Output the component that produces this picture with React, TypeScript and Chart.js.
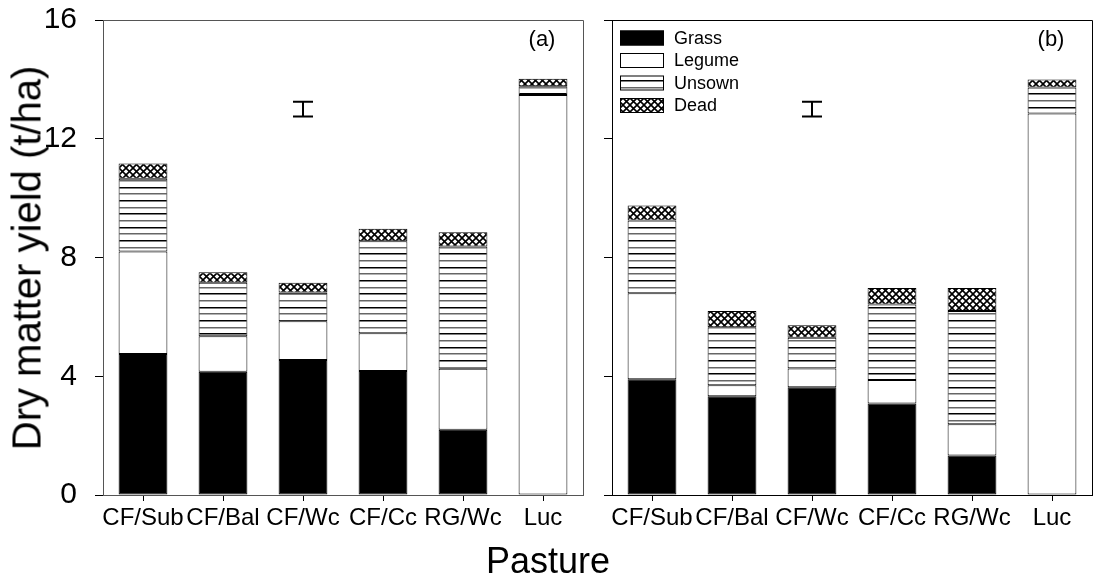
import React, { useEffect, useRef } from "react";
import { Chart, registerables } from "chart.js";
Chart.register(...registerables);

const categories = ["CF/Sub", "CF/Bal", "CF/Wc", "CF/Cc", "RG/Wc", "Luc"];
const grassA = [4.75, 4.15, 4.55, 4.18, 2.2, 0];
const legumeA = [3.45, 1.2, 1.3, 1.27, 2.05, 13.47];
const unsownA = [2.45, 1.8, 0.97, 3.1, 4.12, 0.3];
const deadA = [0.52, 0.35, 0.33, 0.42, 0.48, 0.25];
const grassB = [3.9, 3.33, 3.63, 3.08, 1.33, 0];
const legumeB = [2.9, 0.37, 0.63, 0.79, 1.05, 12.85];
const unsownB = [2.45, 1.95, 1.04, 2.55, 3.82, 0.88];
const deadB = [0.5, 0.55, 0.42, 0.55, 0.77, 0.27];
const yTicks = [0, 4, 8, 12, 16];
const seriesNames = ["Grass", "Legume", "Unsown", "Dead"];
const panelLabels = ["(a)", "(b)"];
const errCategory = "CF/Wc";
const errValue = 13.0;
const errHalf = 0.25;
const xTitle = "Pasture";
const yTitle = "Dry matter yield (t/ha)";

const FONT = "Arial, 'Liberation Sans', sans-serif";

function makeUnsown(): CanvasPattern | string {
  const c = document.createElement("canvas");
  c.width = 4;
  c.height = 40;
  const g = c.getContext("2d");
  if (!g) return "#fff";
  g.fillStyle = "#fff";
  g.fillRect(0, 0, 4, 40);
  const ys = [0, 7, 13, 20, 27, 33];
  ys.forEach((y, i) => {
    g.fillStyle = i % 2 === 0 ? "#000" : "#666";
    g.fillRect(0, y, 4, 1.5);
  });
  return g.createPattern(c, "repeat") as CanvasPattern;
}

function makeDead(): CanvasPattern | string {
  const c = document.createElement("canvas");
  c.width = 7;
  c.height = 7;
  const g = c.getContext("2d");
  if (!g) return "#888";
  g.fillStyle = "#fff";
  g.fillRect(0, 0, 7, 7);
  g.strokeStyle = "#000";
  g.lineWidth = 1.6;
  g.beginPath();
  g.moveTo(-1, -1);
  g.lineTo(8, 8);
  g.moveTo(8, -1);
  g.lineTo(-1, 8);
  g.stroke();
  return g.createPattern(c, "repeat") as CanvasPattern;
}

function Panel(props: {
  idx: number;
  left: number;
  width: number;
  yAxisWidth: number;
  rightPad: number;
  grass: number[];
  legume: number[];
  unsown: number[];
  dead: number[];
  showYLabels: boolean;
  showLegend: boolean;
  labelX: number;
}) {
  const ref = useRef<HTMLCanvasElement | null>(null);
  useEffect(() => {
    if (!ref.current) return;
    const unsownP = makeUnsown();
    const deadP = makeDead();
    const fills = ["#000", "#fff", unsownP, deadP];
    const data = [props.grass, props.legume, props.unsown, props.dead];
    const axisColor = props.idx === 0 ? "#555" : "#000";

    const deco = {
      id: "deco" + props.idx,
      afterDatasetsDraw(chart: any) {
        const ctx = chart.ctx;
        const a = chart.chartArea;
        const xs = chart.scales.x;
        const ys = chart.scales.y;
        ctx.save();
        ctx.strokeStyle = axisColor;
        ctx.lineWidth = 1;
        ctx.beginPath();
        ctx.moveTo(a.left, a.top + 0.5);
        ctx.lineTo(a.right + 0.5, a.top + 0.5);
        ctx.lineTo(a.right + 0.5, a.bottom);
        ctx.stroke();
        const ex = xs.getPixelForValue(categories.indexOf(errCategory));
        const y1 = ys.getPixelForValue(errValue + errHalf);
        const y2 = ys.getPixelForValue(errValue - errHalf);
        ctx.strokeStyle = "#000";
        ctx.lineWidth = 2;
        ctx.beginPath();
        ctx.moveTo(ex, y1);
        ctx.lineTo(ex, y2);
        ctx.moveTo(ex - 10, y1);
        ctx.lineTo(ex + 10, y1);
        ctx.moveTo(ex - 10, y2);
        ctx.lineTo(ex + 10, y2);
        ctx.stroke();
        ctx.fillStyle = "#000";
        ctx.font = "22px " + FONT;
        ctx.textAlign = "center";
        ctx.textBaseline = "middle";
        ctx.fillText(panelLabels[props.idx], props.labelX, 40);
        if (props.showLegend) {
          const bx = 25;
          const rows = [38, 60.5, 83, 105.5];
          ctx.font = "18px " + FONT;
          ctx.textAlign = "left";
          rows.forEach((cy, i) => {
            ctx.fillStyle = fills[i] as any;
            ctx.fillRect(bx, cy - 7.5, 44, 15);
            ctx.strokeStyle = "#000";
            ctx.lineWidth = 1;
            ctx.strokeRect(bx + 0.5, cy - 7.5 + 0.5, 43, 14);
            ctx.fillStyle = "#000";
            ctx.fillText(seriesNames[i], bx + 54, cy + 1);
          });
        }
        ctx.restore();
      },
    };

    const chart = new Chart(ref.current, {
      type: "bar",
      data: {
        labels: categories,
        datasets: seriesNames.map((n, i) => ({
          label: n,
          data: data[i],
          backgroundColor: fills[i] as any,
          borderColor: "#000",
          borderWidth: 1,
          borderSkipped: false,
          barPercentage: 0.61,
          categoryPercentage: 1,
        })),
      },
      options: {
        animation: false,
        responsive: false,
        maintainAspectRatio: false,
        layout: { padding: { top: 20, right: props.rightPad, left: 0, bottom: 0 } },
        plugins: { legend: { display: false }, tooltip: { enabled: false } },
        scales: {
          x: {
            stacked: true,
            offset: true,
            afterFit: (s: any) => {
              s.height = 85;
              s.paddingLeft = 0;
              s.paddingRight = 0;
              s.paddingTop = 0;
              s.paddingBottom = 0;
            },
            grid: {
              offset: false,
              drawOnChartArea: false,
              drawTicks: true,
              tickLength: 6,
              color: "#000",
            },
            border: { display: true, color: axisColor, width: 1 },
            ticks: {
              color: "#000",
              font: { size: 24, family: FONT },
              padding: 3,
              maxRotation: 0,
              autoSkip: false,
            },
          },
          y: {
            stacked: true,
            min: 0,
            max: 16,
            afterFit: (s: any) => {
              s.width = props.yAxisWidth;
              s.paddingTop = 0;
              s.paddingBottom = 0;
              s.paddingLeft = 0;
              s.paddingRight = 0;
            },
            afterBuildTicks: (s: any) => {
              s.ticks = yTicks.map((v) => ({ value: v }));
            },
            grid: {
              drawOnChartArea: false,
              drawTicks: true,
              tickLength: 8,
              color: "#000",
            },
            border: { display: true, color: axisColor, width: 1 },
            ticks: {
              display: props.showYLabels,
              color: "#000",
              font: { size: 30, family: FONT },
              padding: 18,
            },
          },
        },
      },
      plugins: [deco],
    });
    return () => chart.destroy();
  }, []);
  return (
    <canvas
      ref={ref}
      width={props.width}
      height={580}
      style={{ position: "absolute", left: props.left, top: 0, width: props.width, height: 580 }}
    />
  );
}

export default function App() {
  useEffect(() => {
    document.body.style.margin = "0";
  }, []);
  return (
    <div style={{ position: "relative", width: 1095, height: 580, background: "#fff", overflow: "hidden" }}>
      <Panel
        idx={0}
        left={0}
        width={600}
        yAxisWidth={103}
        rightPad={17}
        grass={grassA}
        legume={legumeA}
        unsown={unsownA}
        dead={deadA}
        showYLabels={true}
        showLegend={false}
        labelX={542}
      />
      <Panel
        idx={1}
        left={595}
        width={500}
        yAxisWidth={17}
        rightPad={3}
        grass={grassB}
        legume={legumeB}
        unsown={unsownB}
        dead={deadB}
        showYLabels={false}
        showLegend={true}
        labelX={456}
      />
      <div
        style={{
          position: "absolute",
          left: 548,
          top: 561,
          transform: "translate(-50%, -50%)",
          font: "36px " + FONT,
          whiteSpace: "nowrap",
          color: "#000",
        }}
      >
        {xTitle}
      </div>
      <div
        style={{
          position: "absolute",
          left: 27,
          top: 258,
          transform: "translate(-50%, -50%) rotate(-90deg)",
          font: "40px " + FONT,
          whiteSpace: "nowrap",
          color: "#000",
        }}
      >
        {yTitle}
      </div>
    </div>
  );
}
